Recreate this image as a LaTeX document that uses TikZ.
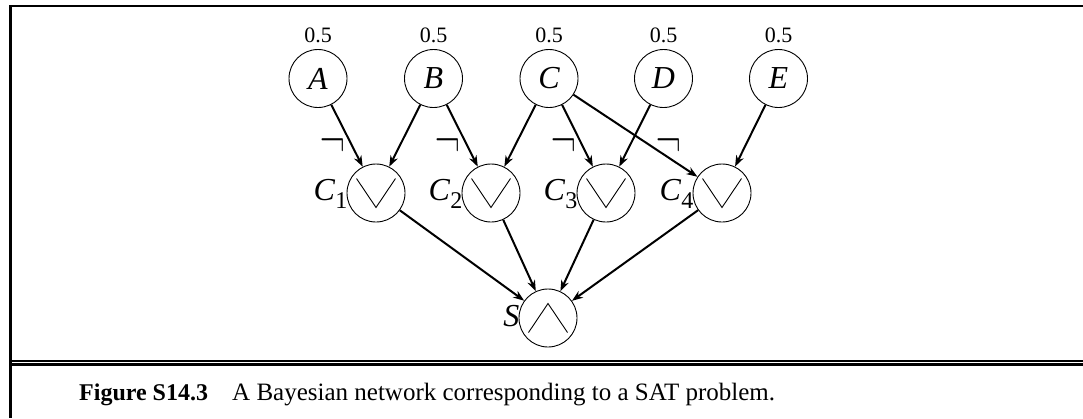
\documentclass[tikz,border=0pt]{standalone}
\usepackage{fontspec}
\setmainfont{Liberation Serif}
\newfontfamily\lmfont{Latin Modern Roman}
\usetikzlibrary{arrows.meta}
\begin{document}
\begin{tikzpicture}[x=1pt,y=-1pt,
  var/.style={circle,draw,line width=0.9pt,minimum size=58pt,inner sep=0pt,
    font=\fontsize{32}{36}\selectfont\itshape},
  gate/.style={circle,draw,line width=0.9pt,minimum size=58pt,inner sep=0pt},
  prob/.style={font=\fontsize{22}{24}\selectfont,inner sep=0pt},
  glabel/.style={font=\fontsize{32}{36}\selectfont,inner sep=0pt,anchor=base east},
  negmark/.style={font=\fontsize{34}{38}\selectfont\lmfont,inner sep=0pt},
  sym/.style={line width=0.9pt},
  edge/.style={line width=2pt,-{Stealth[length=11pt,width=8pt,inset=3.5pt]}},
  frame/.style={line width=2.5pt}
]
\useasboundingbox (0,0) rectangle (1083,418);
% frame
\coordinate (tl) at (10.5,5.75);
\coordinate (tr) at (1083,5.75);
\coordinate (bl) at (10.5,418);
\draw[frame] (tr) -- (tl |- tr) -- (bl);
\coordinate (d1l) at (10.5,360.5);
\coordinate (d1r) at (1083,360.5);
\coordinate (d2l) at (10.5,364.5);
\coordinate (d2r) at (1083,364.5);
\draw[line width=2pt] (d1l) -- (d1r);
\draw[line width=3pt] (d2l) -- (d2r);

% variable nodes
\node[var] (A) at (318,78.5) {A};
\node[var] (B) at (433.5,78.5) {B};
\node[var] (C) at (549,78.5) {C};
\node[var] (D) at (663.5,78.5) {D};
\node[var] (E) at (778.5,78.5) {E};
\foreach \n in {A,B,C,D,E}{
  \node[prob] (p\n) at ([yshift=43.3]\n.center) {0.5};
}

% clause nodes
\node[gate] (C1) at (376,193) {};
\node[gate] (C2) at (491,193) {};
\node[gate] (C3) at (606,193) {};
\node[gate] (C4) at (722,193) {};
\node[gate] (S) at (548,318) {};

\foreach \n/\i in {C1/1,C2/2,C3/3,C4/4}{
  \draw[sym] ([shift={(-19.5,-14.5)}]\n.center) -- ([shift={(0,14.5)}]\n.center) -- ([shift={(19.5,-14.5)}]\n.center);
  \node[glabel] (l\n) at ([shift={(-28.5,7)}]\n.center) {\textit{C}\raisebox{-8pt}{\fontsize{24}{24}\selectfont\i}};
}
\draw[sym] ([shift={(-19.5,14.5)}]S.center) -- ([shift={(0,-14.5)}]S.center) -- ([shift={(19.5,14.5)}]S.center);
\node[glabel] (lS) at ([shift={(-28.5,8)}]S.center) {\textit{S}};

% negation marks
\node[negmark] (n1) at (332.5,150) {\scalebox{1}[1.8]{¬}};
\node[negmark] (n2) at (448,150) {\scalebox{1}[1.8]{¬}};
\node[negmark] (n3) at (563.5,150) {\scalebox{1}[1.8]{¬}};
\node[negmark] (n4) at (668.5,150) {\scalebox{1}[1.8]{¬}};

% edges
\draw[edge] (A) -- (C1);
\draw[edge] (B) -- (C1);
\draw[edge] (B) -- (C2);
\draw[edge] (C) -- (C2);
\draw[edge] (C) -- (C3);
\draw[edge] (D) -- (C3);
\draw[edge] (C) -- (C4);
\draw[edge] (E) -- (C4);
\foreach \n in {C1,C2,C3,C4}{
  \draw[edge] (\n) -- (S);
}

% caption
\node[font=\fontsize{24}{28}\selectfont\bfseries,anchor=base west,inner sep=0pt] (fig) at (79,400.7) {Figure S14.3};
\node[font=\fontsize{25}{28}\selectfont,anchor=base west,inner sep=0pt] (cap) at (232,400.7) {A Bayesian network corresponding to a SAT problem.};
\end{tikzpicture}
\end{document}
